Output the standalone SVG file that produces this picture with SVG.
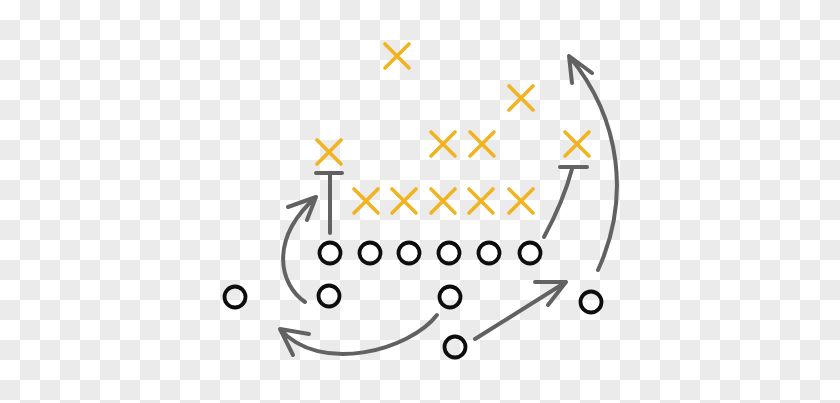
<svg xmlns="http://www.w3.org/2000/svg" width="840" height="403" viewBox="0 0 840 403">
<style>
.o{fill:none;stroke:#0d0d0d;stroke-width:3.8}
.x{stroke:#f1b320;stroke-width:3.6;stroke-linecap:round;fill:none}
.c{stroke:#626262;stroke-width:4;stroke-linecap:round;stroke-linejoin:round;fill:none}
</style>
<defs>
<pattern id="checker" width="40" height="40" patternUnits="userSpaceOnUse">
<rect width="40" height="40" fill="#ffffff"/>
<rect x="20" y="0" width="20" height="20" fill="#ebebeb"/>
<rect x="0" y="20" width="20" height="20" fill="#ebebeb"/>
</pattern>
<path id="xm" d="M-12,-12 L12,12 M12,-12 L-12,12"/>
</defs>
<rect width="840" height="403" fill="url(#checker)"/>

<g id="connectors">
<path class="c" d="M330,233 L330,174 M316,173 L342,173"/>
<path class="c" d="M305,302 C280,285 268,240 316,197 M288,207 L316,197 L307,220"/>
<path class="c" d="M437,315 C410,350 320,375 280,329 M309,334 L280,329 L293,355"/>
<path class="c" d="M475,339 L566,282 M535,282 L566,282 L548,305"/>
<path class="c" d="M544,237 C556,215 565,195 572,169 M560,167 L587,167"/>
<path class="c" d="M598,270 C630,200 622,120 569,56 M592,73 L569,56 L572,83"/>
</g>

<g id="offense">
<circle id="o1" class="o" cx="330" cy="253" r="10.5"/>
<circle id="o2" class="o" cx="370" cy="253" r="10.5"/>
<circle id="o3" class="o" cx="409" cy="253" r="10.5"/>
<circle id="o4" class="o" cx="449" cy="253" r="10.5"/>
<circle id="o5" class="o" cx="489" cy="253" r="10.5"/>
<circle id="o6" class="o" cx="530" cy="253" r="10.5"/>
<circle id="o7" class="o" cx="235" cy="297" r="10.5"/>
<circle id="o8" class="o" cx="329" cy="296" r="10.5"/>
<circle id="o9" class="o" cx="450" cy="297" r="10.5"/>
<circle id="o10" class="o" cx="455" cy="347" r="10.5"/>
<circle id="o11" class="o" cx="591" cy="302" r="10.5"/>
</g>

<g id="defense">
<use id="x1" class="x" href="#xm" x="397" y="56"/>
<use id="x2" class="x" href="#xm" x="521" y="98"/>
<use id="x3" class="x" href="#xm" x="329" y="152"/>
<use id="x4" class="x" href="#xm" x="443" y="144"/>
<use id="x5" class="x" href="#xm" x="482" y="144"/>
<use id="x6" class="x" href="#xm" x="577" y="144"/>
<use id="x7" class="x" href="#xm" x="366" y="201"/>
<use id="x8" class="x" href="#xm" x="404" y="201"/>
<use id="x9" class="x" href="#xm" x="443" y="201"/>
<use id="x10" class="x" href="#xm" x="481" y="201"/>
<use id="x11" class="x" href="#xm" x="521" y="201"/>
</g>
</svg>
